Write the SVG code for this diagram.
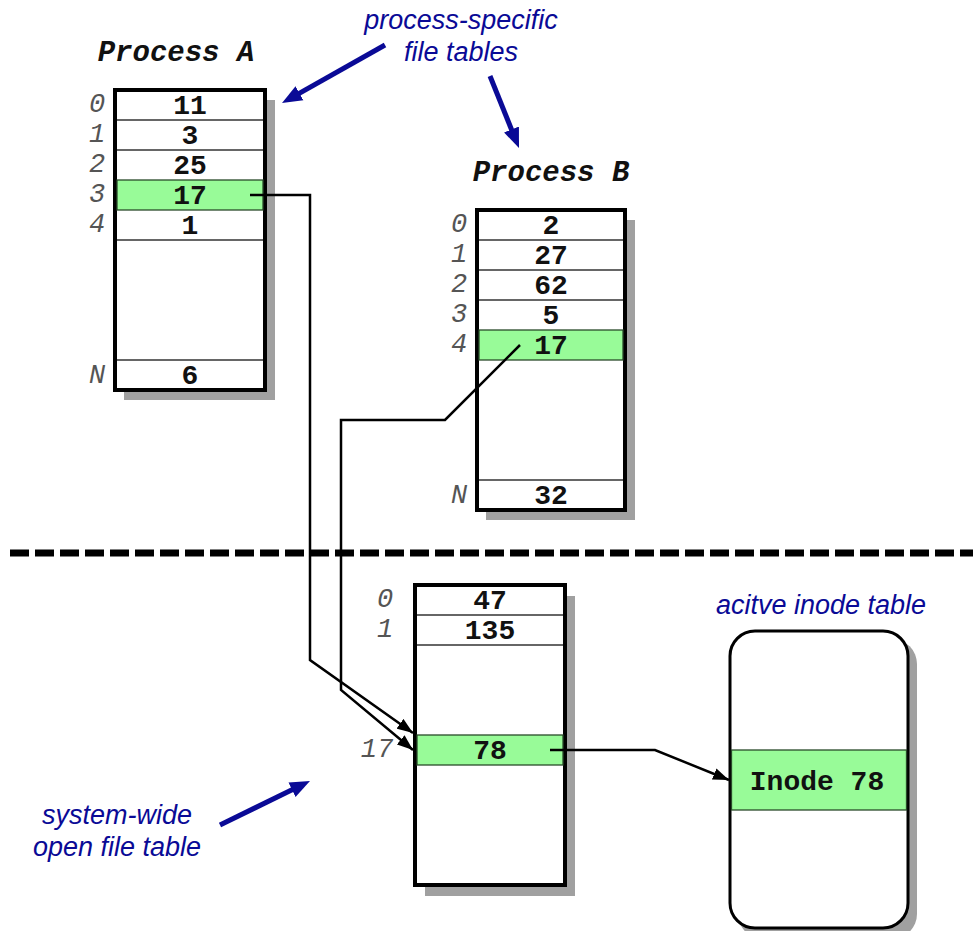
<svg xmlns="http://www.w3.org/2000/svg" width="973" height="931" viewBox="0 0 973 931">
<defs>
<style>
.shadow{fill:#a0a0a0}
.box{fill:#fff;stroke:#000;stroke-width:4}
.row{stroke:#333;stroke-width:1.3}
.hl{fill:#98fb98;stroke:#2a4a2a;stroke-width:1.3}
.val{font-family:"Liberation Mono","Courier New",monospace;font-weight:bold;font-size:28px;fill:#111;text-anchor:middle}
.idx{font-family:"Liberation Mono","Courier New",monospace;font-style:italic;font-size:27px;fill:#555;text-anchor:middle}
.title{font-family:"Liberation Mono","Courier New",monospace;font-weight:bold;font-style:italic;font-size:29px;fill:#111;text-anchor:middle}
.note{font-family:"Liberation Sans",Arial,sans-serif;font-style:italic;font-size:27px;fill:#0a0a96;text-anchor:middle}
.conn{fill:none;stroke:#000;stroke-width:2.5}
.blue{fill:none;stroke:#0a0a96;stroke-width:5}
</style>
<marker id="ah" markerUnits="userSpaceOnUse" markerWidth="17" markerHeight="13" viewBox="0 0 17 13" refX="16" refY="6.5" orient="auto">
<path d="M0,0.5 L16,6.5 L0,12.5 z" fill="#000"/>
</marker>
<marker id="bh" markerUnits="userSpaceOnUse" markerWidth="22" markerHeight="18" viewBox="0 0 22 18" refX="12" refY="9" orient="auto">
<path d="M0,1 L20,9 L0,17 z" fill="#0a0a96"/>
</marker>
</defs>
<rect width="973" height="931" fill="#fff"/>

<!-- Process A -->
<g id="processA">
<text class="title" x="176" y="61">Process A</text>
<rect class="shadow" x="124" y="100" width="151" height="300"/>
<rect class="box" x="115" y="90" width="150" height="300"/>
<rect class="hl" x="117" y="180" width="146" height="30"/>
<line class="row" x1="117" y1="120" x2="263" y2="120"/>
<line class="row" x1="117" y1="150" x2="263" y2="150"/>
<line class="row" x1="117" y1="240" x2="263" y2="240"/>
<line class="row" x1="117" y1="360" x2="263" y2="360"/>
<text class="val" x="190" y="114">11</text>
<text class="val" x="190" y="144">3</text>
<text class="val" x="190" y="174">25</text>
<text class="val" x="190" y="204">17</text>
<text class="val" x="190" y="234">1</text>
<text class="val" x="190" y="384">6</text>
<text class="idx" x="97" y="112">0</text>
<text class="idx" x="97" y="142">1</text>
<text class="idx" x="97" y="172">2</text>
<text class="idx" x="97" y="202">3</text>
<text class="idx" x="97" y="232">4</text>
<text class="idx" x="97" y="383">N</text>
</g>

<!-- Process B -->
<g id="processB">
<text class="title" x="551" y="181">Process B</text>
<rect class="shadow" x="486" y="220" width="149" height="300"/>
<rect class="box" x="477" y="210" width="148" height="300"/>
<rect class="hl" x="479" y="330" width="144" height="30"/>
<line class="row" x1="479" y1="240" x2="623" y2="240"/>
<line class="row" x1="479" y1="270" x2="623" y2="270"/>
<line class="row" x1="479" y1="300" x2="623" y2="300"/>
<line class="row" x1="479" y1="480" x2="623" y2="480"/>
<text class="val" x="551" y="234">2</text>
<text class="val" x="551" y="264">27</text>
<text class="val" x="551" y="294">62</text>
<text class="val" x="551" y="324">5</text>
<text class="val" x="551" y="354">17</text>
<text class="val" x="551" y="504">32</text>
<text class="idx" x="459" y="232">0</text>
<text class="idx" x="459" y="262">1</text>
<text class="idx" x="459" y="292">2</text>
<text class="idx" x="459" y="322">3</text>
<text class="idx" x="459" y="352">4</text>
<text class="idx" x="459" y="503">N</text>
</g>

<!-- System-wide open file table -->
<g id="openFileTable">
<rect class="shadow" x="425" y="596" width="150" height="300"/>
<rect class="box" x="415" y="585" width="150" height="300"/>
<rect class="hl" x="417" y="735" width="146" height="30"/>
<line class="row" x1="417" y1="615" x2="563" y2="615"/>
<line class="row" x1="417" y1="645" x2="563" y2="645"/>
<text class="val" x="490" y="609">47</text>
<text class="val" x="490" y="639">135</text>
<text class="val" x="490" y="759">78</text>
<text class="idx" x="385" y="607">0</text>
<text class="idx" x="385" y="637">1</text>
<text class="idx" x="377" y="757">17</text>
</g>

<!-- Active inode table -->
<g id="inodeTable">
<text class="note" x="821" y="614">acitve inode table</text>
<rect class="shadow" x="738" y="639" width="179" height="300" rx="25"/>
<rect x="730" y="631" width="178" height="297" rx="25" fill="#fff" stroke="#000" stroke-width="3"/>
<rect class="hl" x="731.5" y="750" width="175" height="60"/>
<text class="val" x="817" y="790">Inode 78</text>
</g>

<!-- Separator -->
<g id="separator">
<line x1="10" y1="553" x2="973" y2="553" stroke="#000" stroke-width="7" stroke-dasharray="19 6"/>
</g>

<!-- Annotations -->
<g id="noteProcess">
<text class="note" x="461" y="29">process-specific</text>
<text class="note" x="461" y="61">file tables</text>
</g>
<g id="noteSystem">
<text class="note" x="117" y="824">system-wide</text>
<text class="note" x="117" y="856">open file table</text>
</g>

<!-- Connectors -->
<g id="connectors">
<path class="conn" d="M250,195 H310 V660 L413,733" marker-end="url(#ah)"/>
<path class="conn" d="M520,345 L445,420 H341 V690 L413,750" marker-end="url(#ah)"/>
<path class="conn" d="M550,750 H655 L729,780" marker-end="url(#ah)"/>
<path class="blue" d="M385,45 L289,99.1" marker-end="url(#bh)"/>
<path class="blue" d="M490,76 L516,140.6" marker-end="url(#bh)"/>
<path class="blue" d="M220,825 L302.8,784.5" marker-end="url(#bh)"/>
</g>
</svg>
